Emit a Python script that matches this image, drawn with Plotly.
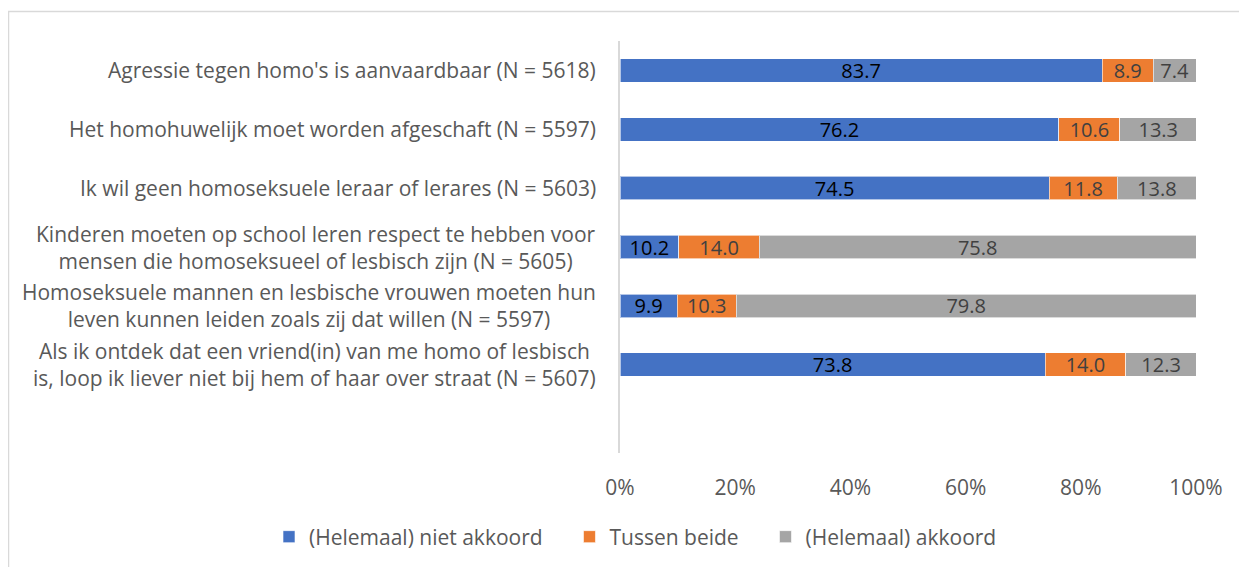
import plotly.graph_objects as go

categories = [
    "Agressie tegen homo's is aanvaardbaar (N = 5618)",
    "Het homohuwelijk moet worden afgeschaft (N = 5597)",
    "Ik wil geen homoseksuele leraar of lerares (N = 5603)",
    "Kinderen moeten op school leren respect te hebben voor<br>mensen die homoseksueel of lesbisch zijn (N = 5605)",
    "Homoseksuele mannen en lesbische vrouwen moeten hun<br>leven kunnen leiden zoals zij dat willen (N = 5597)",
    "Als ik ontdek dat een vriend(in) van me homo of lesbisch<br>is, loop ik liever niet bij hem of haar over straat (N = 5607)",
]
series_names = ["(Helemaal) niet akkoord", "Tussen beide", "(Helemaal) akkoord"]
niet_akkoord = [83.7, 76.2, 74.5, 10.2, 9.9, 73.8]
tussen_beide = [8.9, 10.6, 11.8, 14.0, 10.3, 14.0]
akkoord = [7.4, 13.3, 13.8, 75.8, 79.8, 12.3]
x_tick_vals = [0, 20, 40, 60, 80, 100]
x_tick_text = ["0%", "20%", "40%", "60%", "80%", "100%"]

colors = ["#4472C4", "#ED7D31", "#A5A5A5"]
label_colors = ["#000000", "#404040", "#404040"]
FONT = "Open Sans"

W, H = 1239, 559
L, R, T, B = 612, 51, 33, 114
PW = W - L - R
PH = H - T - B

ypos = list(range(len(categories)))
PAD = "\u00a0" * 4

fig = go.Figure()
for k, (name, vals, col, lc) in enumerate(zip(series_names, [niet_akkoord, tussen_beide, akkoord], colors, label_colors)):
    fig.add_trace(go.Bar(
        y=ypos, x=vals, name=name + (PAD if k < 2 else ""), orientation="h",
        marker=dict(color=col, line=dict(color="rgba(255,255,255,0.6)", width=1)),
        width=0.4,
        text=[f"{v:.1f}" for v in vals],
        textposition="inside", insidetextanchor="middle",
        textfont=dict(family=FONT, size=20, color=lc),
        constraintext="none",
    ))

annotations = []
for i, c in enumerate(categories):
    annotations.append(dict(
        x=0, xref="paper", y=i, yref="y", text=c, showarrow=False,
        xanchor="right", yanchor="middle", align="center", xshift=-22,
        font=dict(family=FONT, size=21, color="#595959"),
    ))

fig.update_layout(
    barmode="stack",
    width=W, height=H,
    margin=dict(l=L, r=R, t=T, b=B, autoexpand=False),
    paper_bgcolor="white", plot_bgcolor="white",
    uniformtext=dict(mode=False),
    xaxis=dict(range=[0, 100], tickvals=x_tick_vals, ticktext=x_tick_text,
               showgrid=False, zeroline=False, showline=False,
               ticks="outside", ticklen=16, tickcolor="rgba(0,0,0,0)",
               tickfont=dict(family=FONT, size=21, color="#595959"), fixedrange=True),
    yaxis=dict(range=[6.5, -0.5], tickvals=ypos, showticklabels=False,
               showgrid=False, zeroline=False, showline=True, linecolor="#D9D9D9", linewidth=2,
               fixedrange=True),
    legend=dict(orientation="h", xref="paper", yref="paper",
                x=(261 - L) / PW, xanchor="left", y=(T + PH - 529) / PH, yanchor="middle",
                font=dict(family=FONT, size=21, color="#595959"), traceorder="normal",
                itemwidth=30),
    annotations=annotations,
    shapes=[dict(type="rect", xref="paper", yref="paper",
                 x0=(0.5 - L) / PW, x1=(W + 20 - L) / PW,
                 y0=(T + PH - (H + 20)) / PH, y1=(T + PH - 3.5) / PH,
                 line=dict(color="#D9D9D9", width=1.5), fillcolor="rgba(0,0,0,0)", layer="below")],
)

fig.write_html("out.html")
